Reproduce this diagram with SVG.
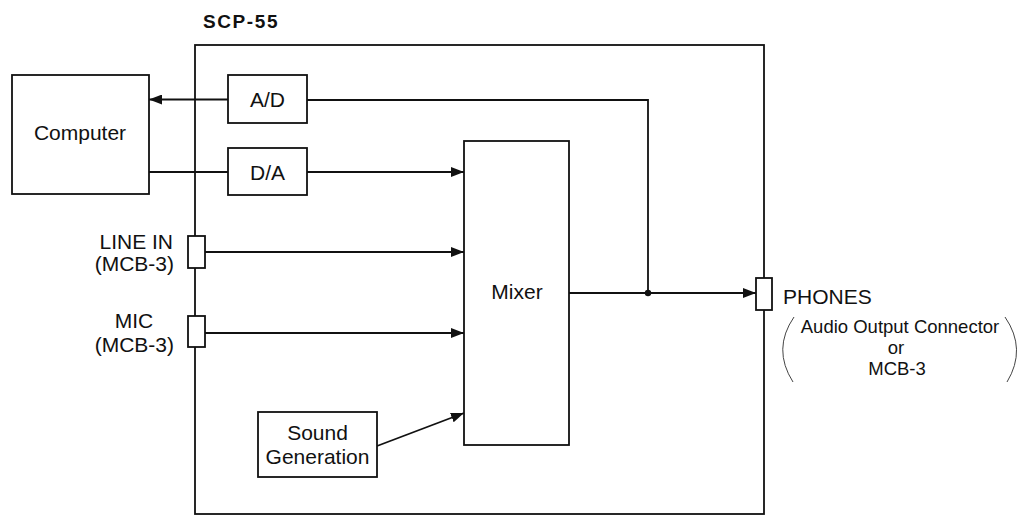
<svg xmlns="http://www.w3.org/2000/svg" width="1019" height="517" viewBox="0 0 1019 517">
<style>
.box{fill:#fff;stroke:#111;stroke-width:1.8}
.wire{fill:none;stroke:#111;stroke-width:1.8}
.paren{fill:none;stroke:#444;stroke-width:1}
.t{font-family:"Liberation Sans",Arial,sans-serif;font-size:21px;fill:#111}
.s{font-size:18.5px}
.c{text-anchor:middle}
.e{text-anchor:end}
</style>
<defs>
<marker id="arr" markerUnits="userSpaceOnUse" markerWidth="13" markerHeight="10" refX="13" refY="5" orient="auto">
<path d="M0,0 L13,5 L0,10 Z" fill="#111"/>
</marker>
</defs>
<rect width="1019" height="517" fill="#fff"/>
<g id="scp55">
<rect class="box" x="195" y="45" width="569" height="469" fill="none"/>
<text x="203" y="28" font-family="Liberation Sans,Arial,sans-serif" font-size="19" font-weight="bold" letter-spacing="1.6" fill="#111">SCP-55</text>
</g>
<g id="connectors">
<path class="wire" d="M228,99.5 L149,99.5" marker-end="url(#arr)"/>
<path class="wire" d="M648,293 L648,100 L307,100"/>
<path class="wire" d="M149,172 L228,172"/>
<path class="wire" d="M307,172 L464,172" marker-end="url(#arr)"/>
<path class="wire" d="M205,252 L464,252" marker-end="url(#arr)"/>
<path class="wire" d="M205,333 L464,333" marker-end="url(#arr)"/>
<path class="wire" d="M377,446 L464,413" marker-end="url(#arr)"/>
<path class="wire" d="M569,293 L756,293" marker-end="url(#arr)"/>
<circle cx="648" cy="293" r="3.2" fill="#111"/>
</g>
<g id="computer">
<rect class="box" x="12" y="75" width="137" height="119"/>
<text class="t c" x="80" y="140">Computer</text>
</g>
<g id="ad">
<rect class="box" x="228" y="75" width="79" height="48"/>
<text class="t c" x="267.5" y="107">A/D</text>
</g>
<g id="da">
<rect class="box" x="228" y="148" width="79" height="47"/>
<text class="t c" x="267.5" y="180">D/A</text>
</g>
<g id="mixer">
<rect class="box" x="464" y="141" width="105" height="304"/>
<text class="t c" x="517" y="299">Mixer</text>
</g>
<g id="sound">
<rect class="box" x="258" y="412" width="119" height="65"/>
<text class="t c" x="317.5" y="440">Sound</text>
<text class="t c" x="317.5" y="464">Generation</text>
</g>
<g id="linein">
<rect class="box" x="188" y="236" width="17" height="32"/>
<text class="t e" x="173" y="249">LINE IN</text>
<text class="t e" x="174" y="271">(MCB-3)</text>
</g>
<g id="mic">
<rect class="box" x="188" y="316" width="17" height="31"/>
<text class="t c" x="134" y="328">MIC</text>
<text class="t e" x="174" y="352">(MCB-3)</text>
</g>
<g id="phones">
<rect class="box" x="756" y="278" width="16" height="32"/>
<text class="t" x="783" y="304">PHONES</text>
<path class="paren" d="M794,317 Q772,349 793,382"/>
<path class="paren" d="M1005,317 Q1027,349 1007,382"/>
<text class="t c s" x="900" y="333">Audio Output Connector</text>
<text class="t c s" x="896" y="354">or</text>
<text class="t c s" x="897" y="375">MCB-3</text>
</g>
</svg>
